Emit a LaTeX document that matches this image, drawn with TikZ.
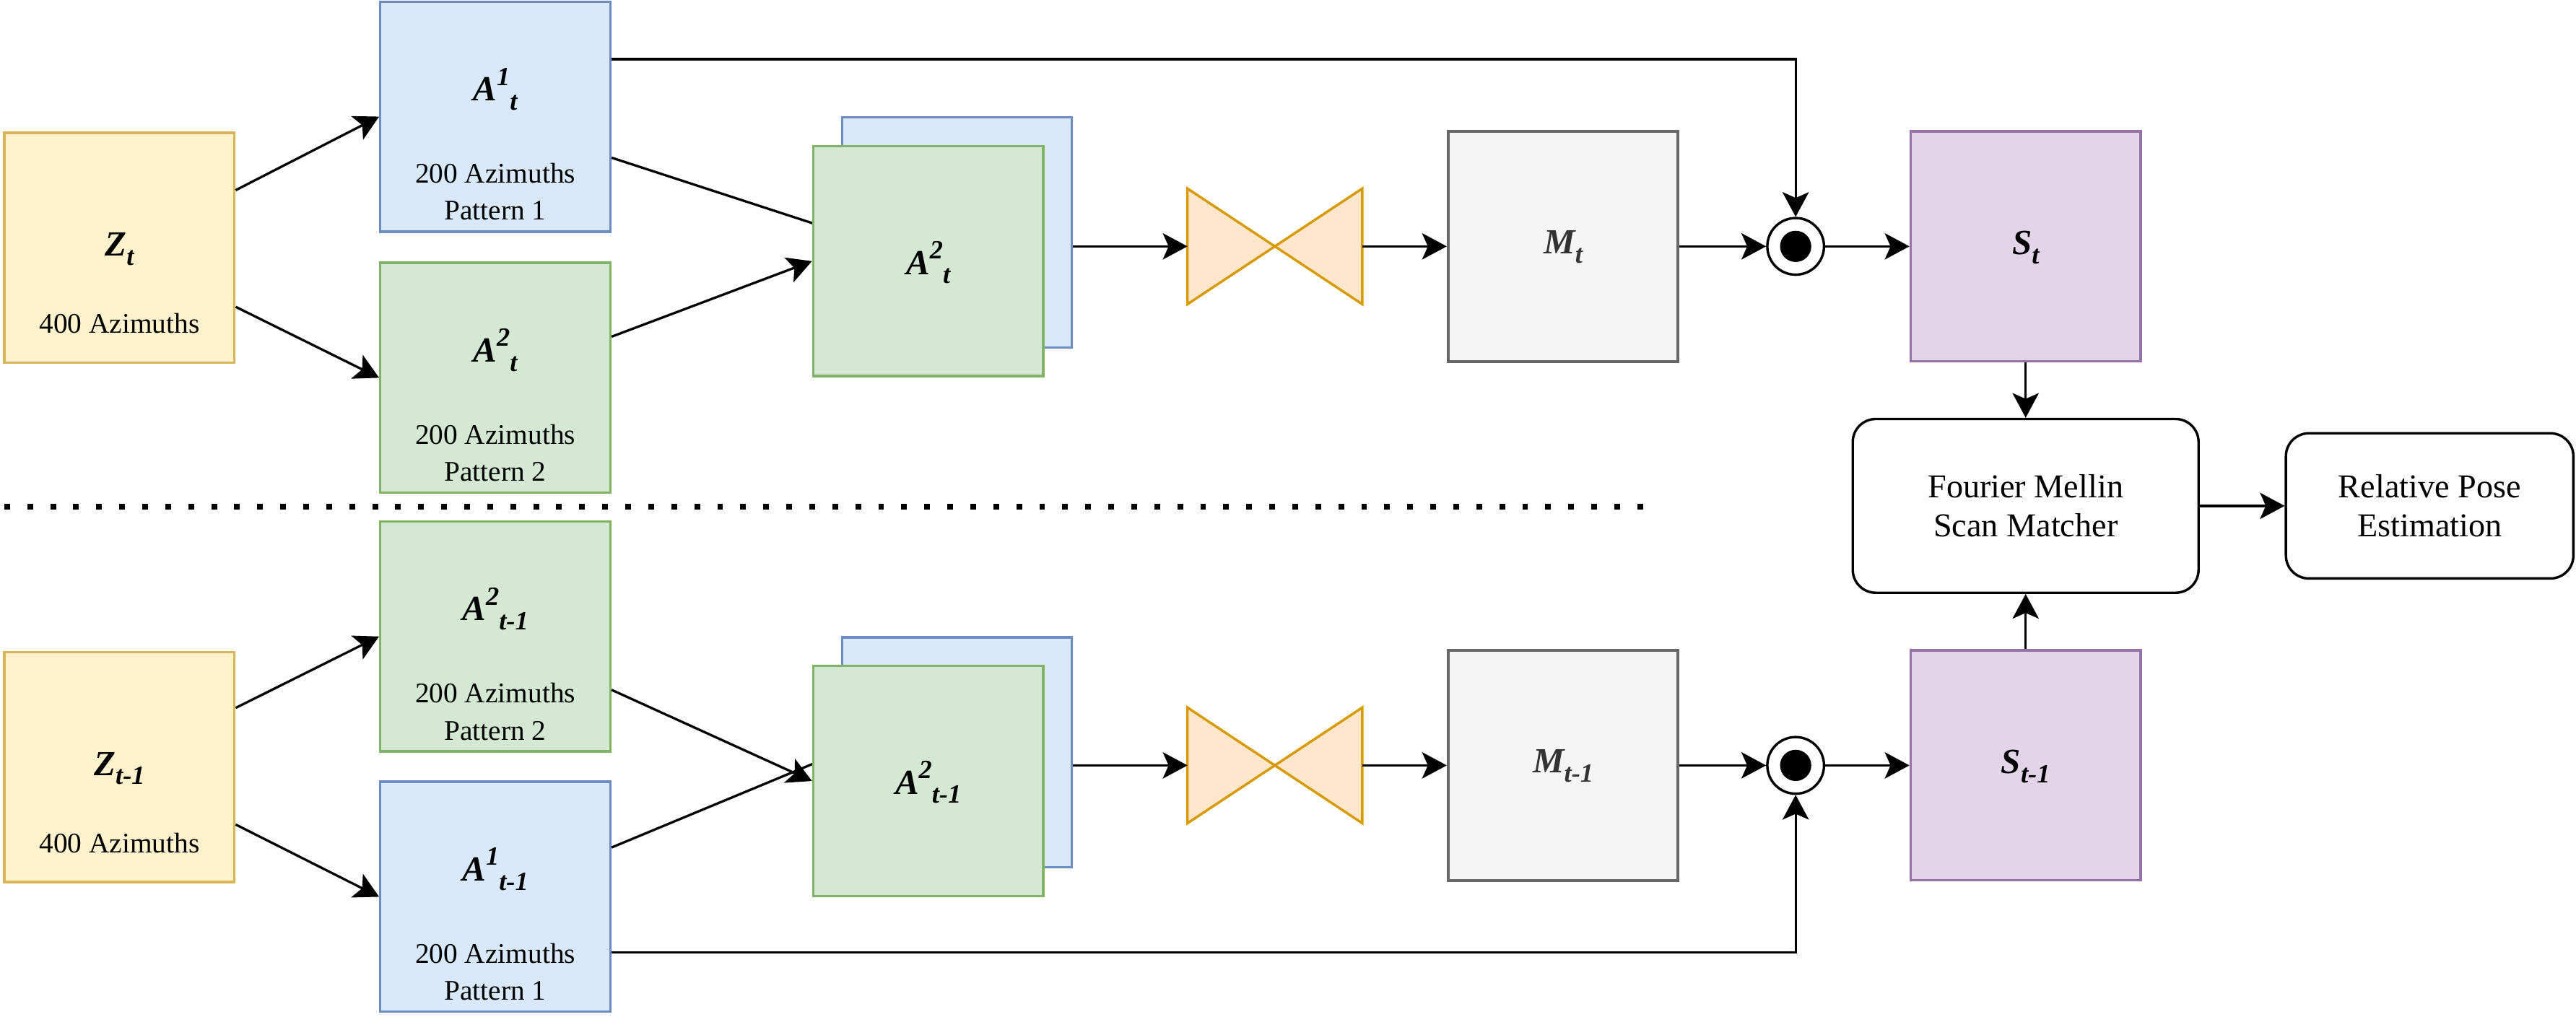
\documentclass[tikz,border=0pt]{standalone}
\usepackage{fontspec}
\setmainfont{Liberation Serif}
\usetikzlibrary{arrows.meta,calc}
\definecolor{yfill}{HTML}{FFF2CC}\definecolor{ydraw}{HTML}{D6B656}
\definecolor{bfill}{HTML}{DAE8FC}\definecolor{bdraw}{HTML}{6C8EBF}
\definecolor{gfill}{HTML}{D5E8D4}\definecolor{gdraw}{HTML}{82B366}
\definecolor{ofill}{HTML}{FFE6CC}\definecolor{odraw}{HTML}{D79B00}
\definecolor{mfill}{HTML}{F5F5F5}\definecolor{mdraw}{HTML}{666666}
\definecolor{pfill}{HTML}{E1D5E7}\definecolor{pdraw}{HTML}{9673A6}
\definecolor{mtext}{HTML}{333333}
\newcommand{\lsub}[1]{\raisebox{-5.5pt}{\fontsize{16}{16}\selectfont #1}}
\newcommand{\lsup}[1]{\raisebox{9.5pt}{\fontsize{16}{16}\selectfont #1}}
\tikzset{
  box/.style={draw, line width=1.5pt, minimum width=140pt, minimum height=140pt, inner sep=0pt},
  yel/.style={box, fill=yfill, draw=ydraw},
  blu/.style={box, fill=bfill, draw=bdraw},
  grn/.style={box, fill=gfill, draw=gdraw},
  gry/.style={box, fill=mfill, draw=mdraw, line width=1.75pt},
  pur/.style={box, fill=pfill, draw=pdraw},
  rbox/.style={draw, line width=1.5pt, rounded corners=14pt, fill=white, inner sep=0pt, align=center,
    font=\fontsize{20.3}{24}\selectfont},
  lab/.style={font=\fontsize{21.5}{24}\selectfont\bfseries\itshape, inner sep=0pt, anchor=base},
  subt/.style={font=\fontsize{17.3}{22.7}\selectfont, inner sep=0pt, anchor=base},
  arr/.style={line width=1.45pt, -{Stealth[length=15pt, width=16pt, inset=3.5pt]}},
  bowtie/.style={draw=odraw, fill=ofill, line width=1.5pt, line join=miter},
  btnode/.style={minimum width=106pt, minimum height=70pt, inner sep=0pt},
  odot/.style={circle, draw, line width=1.5pt, fill=white, minimum size=34.5pt, inner sep=0pt},
  odotin/.style={circle, fill=black, minimum size=19pt, inner sep=0pt},
}
\begin{document}
\begin{tikzpicture}[x=1pt,y=-1pt]
\useasboundingbox (0,0) rectangle (1568,618.8);
\fill[white] (0,0) rectangle (1568,618.8);

% ---------- top row ----------
\node[yel] (Zt) at (72.7,150.8) {};
\node[lab] (ZtL) at ($(Zt.center)+(0,5)$) {Z\lsub{t}};
\node[subt] (ZtS) at ($(Zt.center)+(0,52)$) {400 Azimuths};

\node[blu] (A1t) at (301.5,71) {};
\node[lab] (A1tL) at ($(A1t.center)+(0,-9.6)$) {A\lsup{1}\lsub{t}};
\node[subt] (A1tS1) at ($(A1t.center)+(0,40.3)$) {200 Azimuths};
\node[subt] (A1tS2) at ($(A1t.center)+(0,63)$) {Pattern 1};

\node[grn] (A2t) at (301.5,230) {};
\node[lab] (A2tL) at ($(A2t.center)+(0,-9.6)$) {A\lsup{2}\lsub{t}};
\node[subt] (A2tS1) at ($(A2t.center)+(0,40.3)$) {200 Azimuths};
\node[subt] (A2tS2) at ($(A2t.center)+(0,63)$) {Pattern 2};

\node[blu] (blueT) at (582.5,141.5) {};
\draw[arr] ([yshift=-25pt]A1t.east) -- (blueT.west);
\node[grn] (greenT) at (565,159) {};
\node[lab] (greenTL) at ($(greenT.center)+(0,8)$) {A\lsup{2}\lsub{t}};
\draw[arr] ([yshift=25pt]A2t.east) -- (greenT.west);

\node[btnode] (btT) at (776,150) {};
\draw[bowtie] (btT.north west) -- (btT.south east) -- (btT.north east) -- (btT.south west) -- cycle;

\node[gry] (Mt) at (951.5,150) {};
\node[lab, text=mtext] (MtL) at ($(Mt.center)+(0,4.5)$) {M\lsub{t}};

\node[odot] (oT) at (1093,150) {};
\node[odotin] (oTd) at (oT.center) {};

\node[pur] (St) at (1233,150) {};
\node[lab] (StL) at ($(St.center)+(0,5)$) {S\lsub{t}};

\draw[arr] ([yshift=35pt]Zt.east) -- (A1t.west);
\draw[arr] ([yshift=-36pt]Zt.east) -- (A2t.west);
\draw[arr] (blueT.east |- btT.west) -- (btT.west);
\draw[arr] (btT.east) -- (Mt.west);
\draw[arr] (Mt.east) -- (oT.west);
\draw[arr] (oT.east) -- (St.west);
\draw[arr] ([yshift=35pt]A1t.east) -| (oT.north);

% ---------- right side ----------
\node[rbox, minimum width=210.5pt, minimum height=105.8pt] (FM) at (1233,308) {Fourier Mellin\\Scan Matcher};
\node[rbox, minimum width=175pt, minimum height=88.4pt] (RP) at (1478.9,308) {Relative Pose\\Estimation};
\draw[arr] (St.south) -- (FM.north);
\draw[arr] (FM.east) -- (RP.west);

% ---------- separator ----------
\coordinate (sepL) at (2.6,308.5);
\coordinate (sepR) at (1006,308.5);
\draw[line width=3.5pt, dash pattern=on 3.5pt off 10.5pt] (sepL) -- (sepR);

% ---------- bottom row ----------
\node[yel] (Ztm) at (72.7,467) {};
\node[lab] (ZtmL) at ($(Ztm.center)+(0,5)$) {Z\lsub{t-1}};
\node[subt] (ZtmS) at ($(Ztm.center)+(0,52)$) {400 Azimuths};

\node[grn] (A2tm) at (301.5,387.5) {};
\node[lab] (A2tmL) at ($(A2tm.center)+(0,-9.6)$) {A\lsup{2}\lsub{t-1}};
\node[subt] (A2tmS1) at ($(A2tm.center)+(0,40.3)$) {200 Azimuths};
\node[subt] (A2tmS2) at ($(A2tm.center)+(0,63)$) {Pattern 2};

\node[blu] (A1tm) at (301.5,546) {};
\node[lab] (A1tmL) at ($(A1tm.center)+(0,-9.6)$) {A\lsup{1}\lsub{t-1}};
\node[subt] (A1tmS1) at ($(A1tm.center)+(0,40.3)$) {200 Azimuths};
\node[subt] (A1tmS2) at ($(A1tm.center)+(0,63)$) {Pattern 1};

\node[blu] (blueB) at (582.5,458) {};
\draw[arr] ([yshift=30pt]A1tm.east) -- (blueB.west);
\node[grn] (greenB) at (565,475.5) {};
\node[lab] (greenBL) at ($(greenB.center)+(0,8)$) {A\lsup{2}\lsub{t-1}};
\draw[arr] ([yshift=-32.5pt]A2tm.east) -- (greenB.west);

\node[btnode] (btB) at (776,466) {};
\draw[bowtie] (btB.north west) -- (btB.south east) -- (btB.north east) -- (btB.south west) -- cycle;

\node[gry] (Mtm) at (951.5,466) {};
\node[lab, text=mtext] (MtmL) at ($(Mtm.center)+(0,4.5)$) {M\lsub{t-1}};

\node[odot] (oB) at (1093,466) {};
\node[odotin] (oBd) at (oB.center) {};

\node[pur] (Stm) at (1233,466) {};
\node[lab] (StmL) at ($(Stm.center)+(0,5)$) {S\lsub{t-1}};

\draw[arr] ([yshift=36pt]Ztm.east) -- (A2tm.west);
\draw[arr] ([yshift=-35pt]Ztm.east) -- (A1tm.west);
\draw[arr] (blueB.east |- btB.west) -- (btB.west);
\draw[arr] (btB.east) -- (Mtm.west);
\draw[arr] (Mtm.east) -- (oB.west);
\draw[arr] (oB.east) -- (Stm.west);
\draw[arr] ([yshift=-34pt]A1tm.east) -| (oB.south);
\draw[arr] (Stm.north) -- (FM.south);
\end{tikzpicture}
\end{document}
